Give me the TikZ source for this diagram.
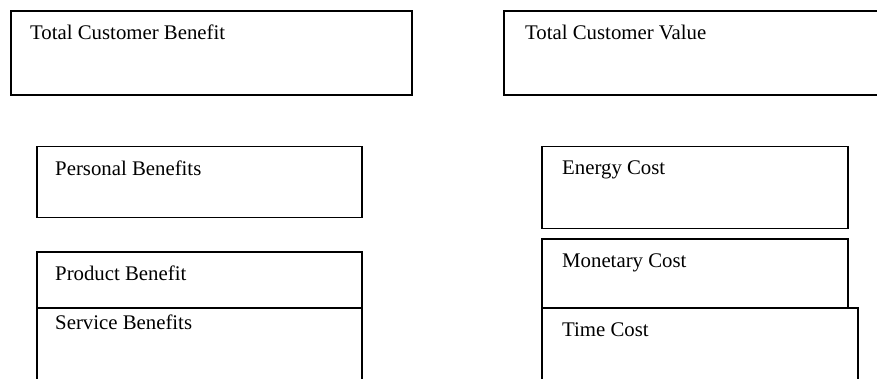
\documentclass[tikz,border=0pt]{standalone}
\usepackage{fontspec}
\setmainfont{Liberation Serif}
\usepackage{xcolor}
\usepackage{tikz}

\begin{document}
\begin{tikzpicture}[x=1pt, y=-1pt,
  outerbox/.style={draw, line width=2pt, anchor=north west, inner sep=0pt},
  innerbox/.style={draw, line width=1.5pt, anchor=north west, inner sep=0pt},
  boxtext/.style={anchor=north west, inner sep=0pt, font=\fontsize{20.8}{24}\selectfont}]
  \useasboundingbox (0,0) rectangle (877,379);
  \clip (0,0) rectangle (877,379);
  % top row
  \node[outerbox, minimum width=401pt, minimum height=84pt] (benefit) at (10,10) {};
  \node[outerbox, minimum width=400pt, minimum height=84pt] (value) at (503,10) {};
  \node[boxtext] (benefitt) at ([shift={(20,15)}]benefit.north west) {Total Customer Benefit};
  \node[boxtext] (valuet) at ([shift={(22,15)}]value.north west) {Total Customer Value};
  % benefits
  \node[innerbox, minimum width=325pt, minimum height=71pt] (personal) at (36,146) {};
  \node[innerbox, minimum width=325pt, minimum height=56pt] (product) at (36,251) {};
  \node[innerbox, minimum width=325pt, minimum height=100pt] (service) at (36,307) {};
  \node[boxtext] (personalt) at ([shift={(19,15)}]personal.north west) {Personal Benefits};
  \node[boxtext] (productt) at ([shift={(19,15)}]product.north west) {Product Benefit};
  \node[boxtext] (servicet) at ([shift={(19,8)}]service.north west) {Service Benefits};
  % costs
  \node[innerbox, minimum width=306pt, minimum height=82pt] (energy) at (541,146) {};
  \node[innerbox, minimum width=306pt, minimum height=69pt] (monetary) at (541,238) {};
  \node[innerbox, minimum width=316pt, minimum height=100pt] (time) at (541,307) {};
  \node[boxtext] (energyt) at ([shift={(21,15)}]energy.north west) {Energy Cost};
  \node[boxtext] (monetaryt) at ([shift={(21,16)}]monetary.north west) {Monetary Cost};
  \node[boxtext] (timet) at ([shift={(21,16)}]time.north west) {Time Cost};
\end{tikzpicture}
\end{document}
